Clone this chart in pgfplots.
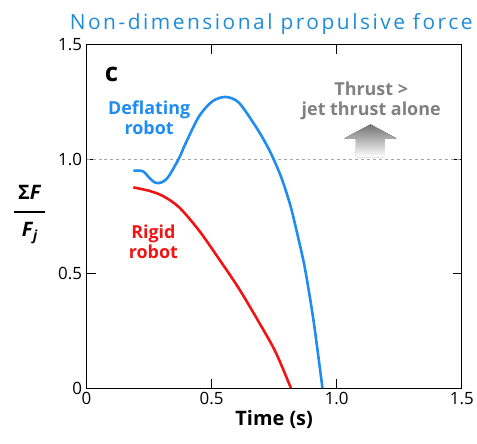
\documentclass[border=0pt]{standalone}
\usepackage{fontspec}
\setmainfont{Open Sans}
\newfontfamily\titlefont[LetterSpace=12]{Open Sans}
\usepackage{pgfplots}
\pgfplotsset{compat=1.18}
\definecolor{myblue}{RGB}{30,140,240}
\definecolor{myred}{RGB}{240,20,20}
\definecolor{titleblue}{RGB}{30,140,215}
\definecolor{tgray}{RGB}{128,128,128}
\begin{document}
\begin{tikzpicture}
\begin{axis}[
  scale only axis, width=377pt, height=345pt,
  xmin=0, xmax=1.5, ymin=0, ymax=1.5,
  xtick={0,0.5,1.0,1.5}, xticklabels={0,0.5,1.0,1.5},
  ytick={0,0.5,1.0,1.5}, yticklabels={0,0.5,1.0,1.5},
  tick align=inside, major tick length=9pt,
  tick style={black, line width=1pt},
  axis line style={line width=1pt},
  ticklabel style={font=\fontsize{17}{19}\selectfont},
  /pgf/number format/assume math mode=true,
  xticklabel style={yshift=-1pt},
  yticklabel style={xshift=-1pt},
  xlabel={\bfseries Time (s)},
  xlabel style={font=\fontsize{20}{22}\selectfont, yshift=2pt},
  clip=false,
]
\addplot[tgray!70, line width=1pt, dash pattern=on 3pt off 3pt] coordinates {(0,1) (1.5,1)};
\addplot[myblue, line width=2.6pt, smooth, tension=0.5] coordinates {
(0.187,0.950) (0.224,0.948) (0.250,0.920) (0.270,0.900) (0.290,0.896) (0.310,0.905) (0.330,0.928) (0.370,1.005) (0.397,1.072) (0.450,1.188) (0.503,1.253) (0.556,1.272) (0.609,1.247) (0.675,1.145) (0.715,1.072) (0.748,1.0) (0.781,0.913) (0.815,0.797) (0.841,0.681) (0.868,0.551) (0.887,0.435) (0.910,0.275) (0.943,0.0)
};
\addplot[myred, line width=2.6pt, smooth, tension=0.5] coordinates {
(0.187,0.877) (0.250,0.862) (0.304,0.840) (0.370,0.790) (0.450,0.688) (0.529,0.565) (0.609,0.435) (0.688,0.290) (0.755,0.159) (0.817,0.0)
};
\node[font=\fontsize{26}{28}\selectfont\bfseries] at (axis cs:0.10,1.37) {c};
\node[myblue, align=center, font=\fontsize{18}{20}\selectfont\bfseries] at (axis cs:0.25,1.183) {Deflating\\robot};
\node[myred, align=center, font=\fontsize{18}{20}\selectfont\bfseries] at (axis cs:0.267,0.639) {Rigid\\robot};
\node[tgray, align=center, font=\fontsize{18}{20}\selectfont\bfseries] at (axis cs:1.138,1.257) {Thrust >\\jet thrust alone};
\fill[top color=tgray!90!black, bottom color=white] (axis cs:1.077,1.009) -- (axis cs:1.077,1.091) -- (axis cs:1.030,1.091) -- (axis cs:1.135,1.152) -- (axis cs:1.240,1.091) -- (axis cs:1.193,1.091) -- (axis cs:1.193,1.009) -- cycle;
\node[font=\fontsize{20}{20}\selectfont\bfseries, inner sep=0pt, anchor=base] at (axis cs:-0.227,0.822) {Σ\textit{F}};
\draw[line width=1.4pt] (axis cs:-0.289,0.770) -- (axis cs:-0.167,0.770);
\node[font=\fontsize{20}{20}\selectfont\bfseries, inner sep=0pt, anchor=base] at (axis cs:-0.227,0.662) {\textit{F\kern0.5pt\textsubscript{j}}};
\node[text=titleblue, font=\titlefont\fontsize{21}{23}\selectfont, anchor=base] at (axis cs:0.738,1.567) {Non-dimensional propulsive force};
\end{axis}
\path (-87pt,-56pt) rectangle (390pt,390pt);
\end{tikzpicture}
\end{document}
